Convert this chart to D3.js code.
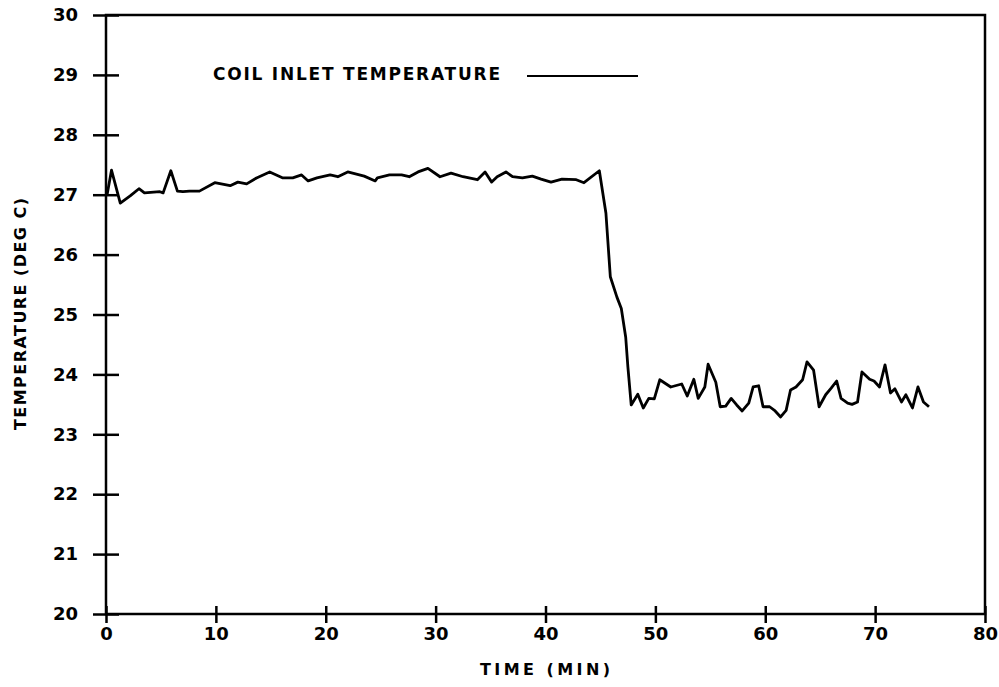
<!doctype html>
<html lang="en">
<head>
  <meta charset="UTF-8">
  <title>Coil Inlet Temperature</title>
  <script src="https://d3js.org/d3.v7.min.js"></script>
  <style>
    body { margin: 0; background: #fff; }
    text { font-family: "DejaVu Sans", sans-serif; font-weight: bold; fill: #000; }
  </style>
</head>
<body>
  <div id="myDiv"></div>
  <script type="text/javascript">
    // readings taken off the plot
    var minutes = [0.1, 0.5, 1.3, 2.2, 3.0, 3.5, 4.9, 5.2, 5.9, 6.5, 7.0, 7.6, 8.5, 9.9,
      11.3, 12.0, 12.8, 13.7, 14.9, 16.1, 17.0, 17.8, 18.4, 19.2, 20.4, 21.1, 22.0,
      23.5, 24.5, 24.7, 25.8, 26.9, 27.6, 28.4, 29.3, 30.4, 31.4, 32.5, 33.8, 34.5,
      35.1, 35.6, 36.4, 37.0, 37.9, 38.8, 39.6, 40.5, 41.5, 42.8, 43.5, 44.9,
      45.5, 45.9, 46.5, 46.9, 47.3, 47.5, 47.8, 48.4, 48.9, 49.4, 49.9, 50.4,
      51.4, 52.4, 52.9, 53.5, 53.9, 54.5, 54.8, 55.5, 55.9, 56.4, 56.9, 57.4,
      57.9, 58.5, 58.9, 59.4, 59.8, 60.4, 60.9, 61.4, 61.9, 62.3, 62.8, 63.4,
      63.8, 64.4, 64.9, 65.5, 66.0, 66.5, 66.9, 67.5, 67.9, 68.4, 68.8, 69.5,
      69.9, 70.4, 70.9, 71.4, 71.8, 72.4, 72.8, 73.4, 73.9, 74.4, 74.9];
    var temps = [27.0, 27.41, 26.86, 26.98, 27.1, 27.03, 27.05, 27.03, 27.40, 27.06, 27.05, 27.06, 27.06, 27.2,
      27.15, 27.21, 27.18, 27.28, 27.38, 27.28, 27.28, 27.33, 27.23, 27.28, 27.33, 27.3, 27.38,
      27.31, 27.23, 27.28, 27.33, 27.33, 27.3, 27.38, 27.44, 27.3, 27.36, 27.3, 27.25, 27.38,
      27.21, 27.3, 27.38, 27.3, 27.28, 27.31, 27.26, 27.21, 27.26, 27.25, 27.2, 27.4,
      26.69, 25.63, 25.29, 25.1, 24.62, 24.12, 23.49, 23.67, 23.44, 23.6, 23.59, 23.91,
      23.79, 23.84, 23.64, 23.92, 23.6, 23.79, 24.17, 23.87, 23.46, 23.47, 23.6, 23.49,
      23.39, 23.52, 23.79, 23.81, 23.46, 23.46, 23.39, 23.29, 23.4, 23.74, 23.79, 23.91,
      24.21, 24.07, 23.46, 23.66, 23.77, 23.89, 23.6, 23.52, 23.5, 23.54, 24.04, 23.92,
      23.89, 23.79, 24.16, 23.69, 23.76, 23.54, 23.66, 23.44, 23.79, 23.54, 23.46];
    var xTicks = [0, 10, 20, 30, 40, 50, 60, 70, 80];
    var yTicks = [20, 21, 22, 23, 24, 25, 26, 27, 28, 29, 30];
    var seriesName = "COIL INLET TEMPERATURE";

    var data = minutes.map(function(m, i) { return { t: m, v: temps[i] }; });

    var width = 999, height = 687;
    // plot frame edges (avoid window.top)
    var plotL = 106, plotR = 985, plotT = 15, plotB = 614;

    var svg = d3.select("#myDiv").append("svg")
      .attr("width", width)
      .attr("height", height);

    var xScale = d3.scaleLinear().domain([0, 80]).range([plotL, plotR]);
    var yScale = d3.scaleLinear().domain([20, 30]).range([plotB, plotT]);

    // frame
    svg.append("rect")
      .attr("x", plotL).attr("y", plotT)
      .attr("width", plotR - plotL).attr("height", plotB - plotT)
      .attr("fill", "none").attr("stroke", "#000").attr("stroke-width", 2.5);

    // axes with ticks crossing the frame
    var yAxis = d3.axisLeft(yScale).tickValues(yTicks).tickSize(13).tickPadding(6)
      .tickFormat(d3.format("d"));
    var gy = svg.append("g").attr("transform", "translate(" + plotL + ",0)").call(yAxis);
    gy.select(".domain").remove();
    gy.selectAll(".tick line").attr("x1", 13).attr("x2", -13)
      .attr("stroke-width", 2.5);
    gy.selectAll(".tick text").style("font-size", "18px")
      .attr("x", -28);

    var xAxis = d3.axisBottom(xScale).tickValues(xTicks).tickSize(8).tickPadding(6)
      .tickFormat(d3.format("d"));
    var gx = svg.append("g").attr("transform", "translate(0," + plotB + ")").call(xAxis);
    gx.select(".domain").remove();
    gx.selectAll(".tick line").attr("y1", -8).attr("y2", 9)
      .attr("stroke-width", 2.5);
    gx.selectAll(".tick text").style("font-size", "18px").attr("y", 13);

    // data line
    var line = d3.line()
      .x(function(d) { return xScale(d.t); })
      .y(function(d) { return yScale(d.v); });
    svg.append("path")
      .datum(data)
      .attr("d", line)
      .attr("fill", "none")
      .attr("stroke", "#000")
      .attr("stroke-width", 2.8)
      .attr("stroke-linejoin", "round");

    // legend
    svg.append("text")
      .attr("x", 213).attr("y", 80)
      .attr("textLength", 287).attr("lengthAdjust", "spacing")
      .style("font-size", "17px")
      .text(seriesName);
    svg.append("line")
      .attr("x1", 527).attr("x2", 638).attr("y1", 76).attr("y2", 76)
      .attr("stroke", "#000").attr("stroke-width", 2);

    // axis titles
    svg.append("text")
      .attr("x", 545).attr("y", 675)
      .attr("text-anchor", "middle")
      .attr("textLength", 130).attr("lengthAdjust", "spacing")
      .style("font-size", "16px")
      .text("TIME (MIN)");
    svg.append("text")
      .attr("transform", "translate(26,314) rotate(-90)")
      .attr("text-anchor", "middle")
      .attr("textLength", 232).attr("lengthAdjust", "spacing")
      .style("font-size", "16px")
      .text("TEMPERATURE (DEG C)");
  </script>
</body>
</html>
